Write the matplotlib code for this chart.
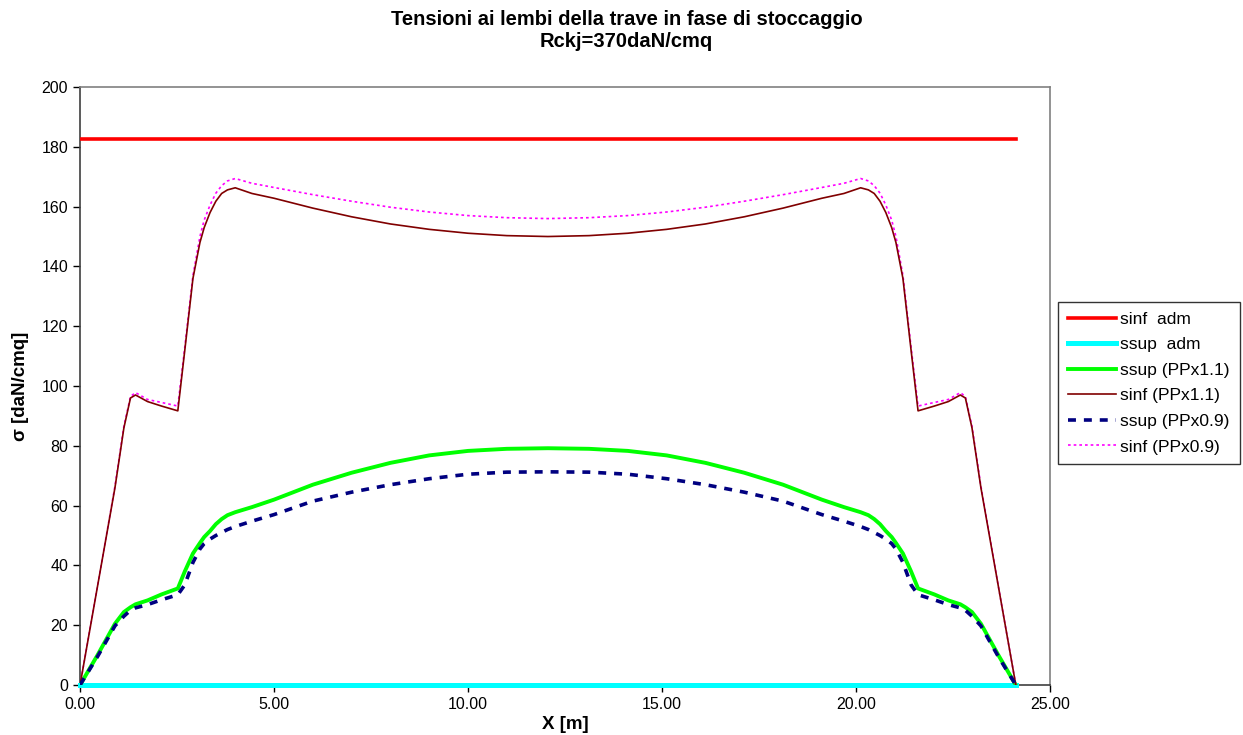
import matplotlib
matplotlib.use('Agg')
import matplotlib.pyplot as plt

plt.rcParams['font.family'] = ['Liberation Sans', 'DejaVu Sans']

# sezioni lungo la trave [m]
x_m = [0.0, 0.45, 0.9, 1.13, 1.3, 1.43, 1.74, 2.1, 2.52, 2.7, 2.91, 3.09, 3.2, 3.35,
       3.5, 3.65, 3.8, 4.0, 4.43, 5.0, 6.0, 7.0, 8.0, 9.0, 10.0, 11.0, 12.06,
       13.12, 14.12, 15.12, 16.12, 17.12, 18.12, 19.12, 19.69, 20.12, 20.32, 20.47,
       20.62, 20.77, 20.92, 21.03, 21.21, 21.42, 21.6, 22.02, 22.38, 22.69, 22.82,
       22.99, 23.22, 23.67, 24.12]

# tensioni [daN/cmq]
ssup_11 = [0, 10, 20.5, 24.4, 26, 27, 28.3, 30.3, 32.3, 38, 44, 47.5, 49.5, 51.5,
           53.8, 55.5, 56.8, 57.8, 59.5, 62, 67, 71, 74.3, 76.8, 78.3, 79, 79.2,
           79, 78.3, 76.8, 74.3, 71, 67, 62, 59.5, 57.8, 56.8, 55.5,
           53.8, 51.5, 49.5, 47.5, 44, 38, 32.3, 30.3, 28.3, 27, 26,
           24.4, 20.5, 10, 0]
sinf_11 = [0, 33, 66, 86, 96, 97, 94.8, 93.3, 91.7, 112, 136, 148, 153, 158,
           161.8, 164.4, 165.6, 166.3, 164.4, 162.8, 159.5, 156.6, 154.2, 152.4, 151.1, 150.3, 150.0,
           150.3, 151.1, 152.4, 154.2, 156.6, 159.5, 162.8, 164.4, 166.3, 165.6, 164.4,
           161.8, 158, 153, 148, 136, 112, 91.7, 93.3, 94.8, 97, 96,
           86, 66, 33, 0]
ssup_09 = [0, 9.5, 19.8, 23, 25, 25.8, 26.9, 28.5, 30.2, 33.5, 41, 45.5, 47.3, 48.8,
           50, 51, 52, 53, 54.8, 57, 61.5, 64.5, 67, 69, 70.5, 71.2, 71.3,
           71.2, 70.5, 69, 67, 64.5, 61.5, 57, 54.8, 53, 52, 51,
           50, 48.8, 47.3, 45.5, 41, 33.5, 30.2, 28.5, 26.9, 25.8, 25,
           23, 19.8, 9.5, 0]
sinf_09 = [0, 33, 66.5, 86.5, 96.5, 97.8, 95.5, 94.5, 93.3, 113, 137, 150, 155.5, 160.5,
           164.5, 167, 168.6, 169.4, 167.8, 166.4, 164, 161.8, 159.8, 158.2, 157, 156.3, 156.0,
           156.3, 157, 158.2, 159.8, 161.8, 164, 166.4, 167.8, 169.4, 168.6, 167,
           164.5, 160.5, 155.5, 150, 137, 113, 93.3, 94.5, 95.5, 97.8, 96.5,
           86.5, 66.5, 33, 0]

x_adm = [0.0, 24.12]
sinf_adm = [182.5, 182.5]
ssup_adm = [0.0, 0.0]

fig = plt.figure(figsize=(12.43, 7.35), dpi=100)
ax = fig.add_axes([0.0644, 0.068, 0.7803, 0.8136])

ax.plot(x_adm, sinf_adm, color='#ff0000', lw=2.6, label='sinf  adm', zorder=3)
ax.plot(x_adm, ssup_adm, color='#00ffff', lw=3.6, label='ssup  adm', zorder=3,
        clip_on=False)
ax.plot(x_m, ssup_11, color='#00ff00', lw=2.8, label='ssup (PPx1.1)', zorder=3)
ax.plot(x_m, sinf_11, color='#800000', lw=1.2, label='sinf (PPx1.1)', zorder=4)
ax.plot(x_m, ssup_09, color='#000080', lw=2.6, dashes=(2.2, 2.2),
        label='ssup (PPx0.9)', zorder=4)
ax.plot(x_m, sinf_09, color='#ff00ff', lw=1.2, dashes=(1.6, 1.8),
        label='sinf (PPx0.9)', zorder=3)

ax.set_xlim(0, 25)
ax.set_ylim(0, 200)
ax.set_xticks([0, 5, 10, 15, 20, 25])
ax.set_xticklabels(['0.00', '5.00', '10.00', '15.00', '20.00', '25.00'])
ax.set_yticks(range(0, 201, 20))
ax.tick_params(direction='out', length=5, width=1, labelsize=11.5, colors='black')

for side in ['left', 'bottom']:
    ax.spines[side].set_color('#404040')
    ax.spines[side].set_linewidth(1.2)
for side in ['top', 'right']:
    ax.spines[side].set_color('#808080')
    ax.spines[side].set_linewidth(1.2)

ax.set_xlabel('X [m]', fontsize=13.5, fontweight='bold', labelpad=3)
ax.set_ylabel('σ [daN/cmq]', fontsize=13.5, fontweight='bold', labelpad=9)

fig.text(0.504, 0.974, 'Tensioni ai lembi della trave in fase di stoccaggio',
         ha='center', va='center', fontsize=14.5, fontweight='bold')
fig.text(0.504, 0.944, 'Rckj=370daN/cmq',
         ha='center', va='center', fontsize=14.5, fontweight='bold')

leg = ax.legend(loc='upper left', bbox_to_anchor=(1058 / 1243, 1 - 302 / 735),
                bbox_transform=fig.transFigure, fontsize=12.5, frameon=True,
                fancybox=False, edgecolor='black', handlelength=2.8,
                handletextpad=0.25, labelspacing=0.6, borderpad=0.55,
                borderaxespad=0)
leg.get_frame().set_linewidth(1.0)

fig.savefig('out.png', dpi=100)
